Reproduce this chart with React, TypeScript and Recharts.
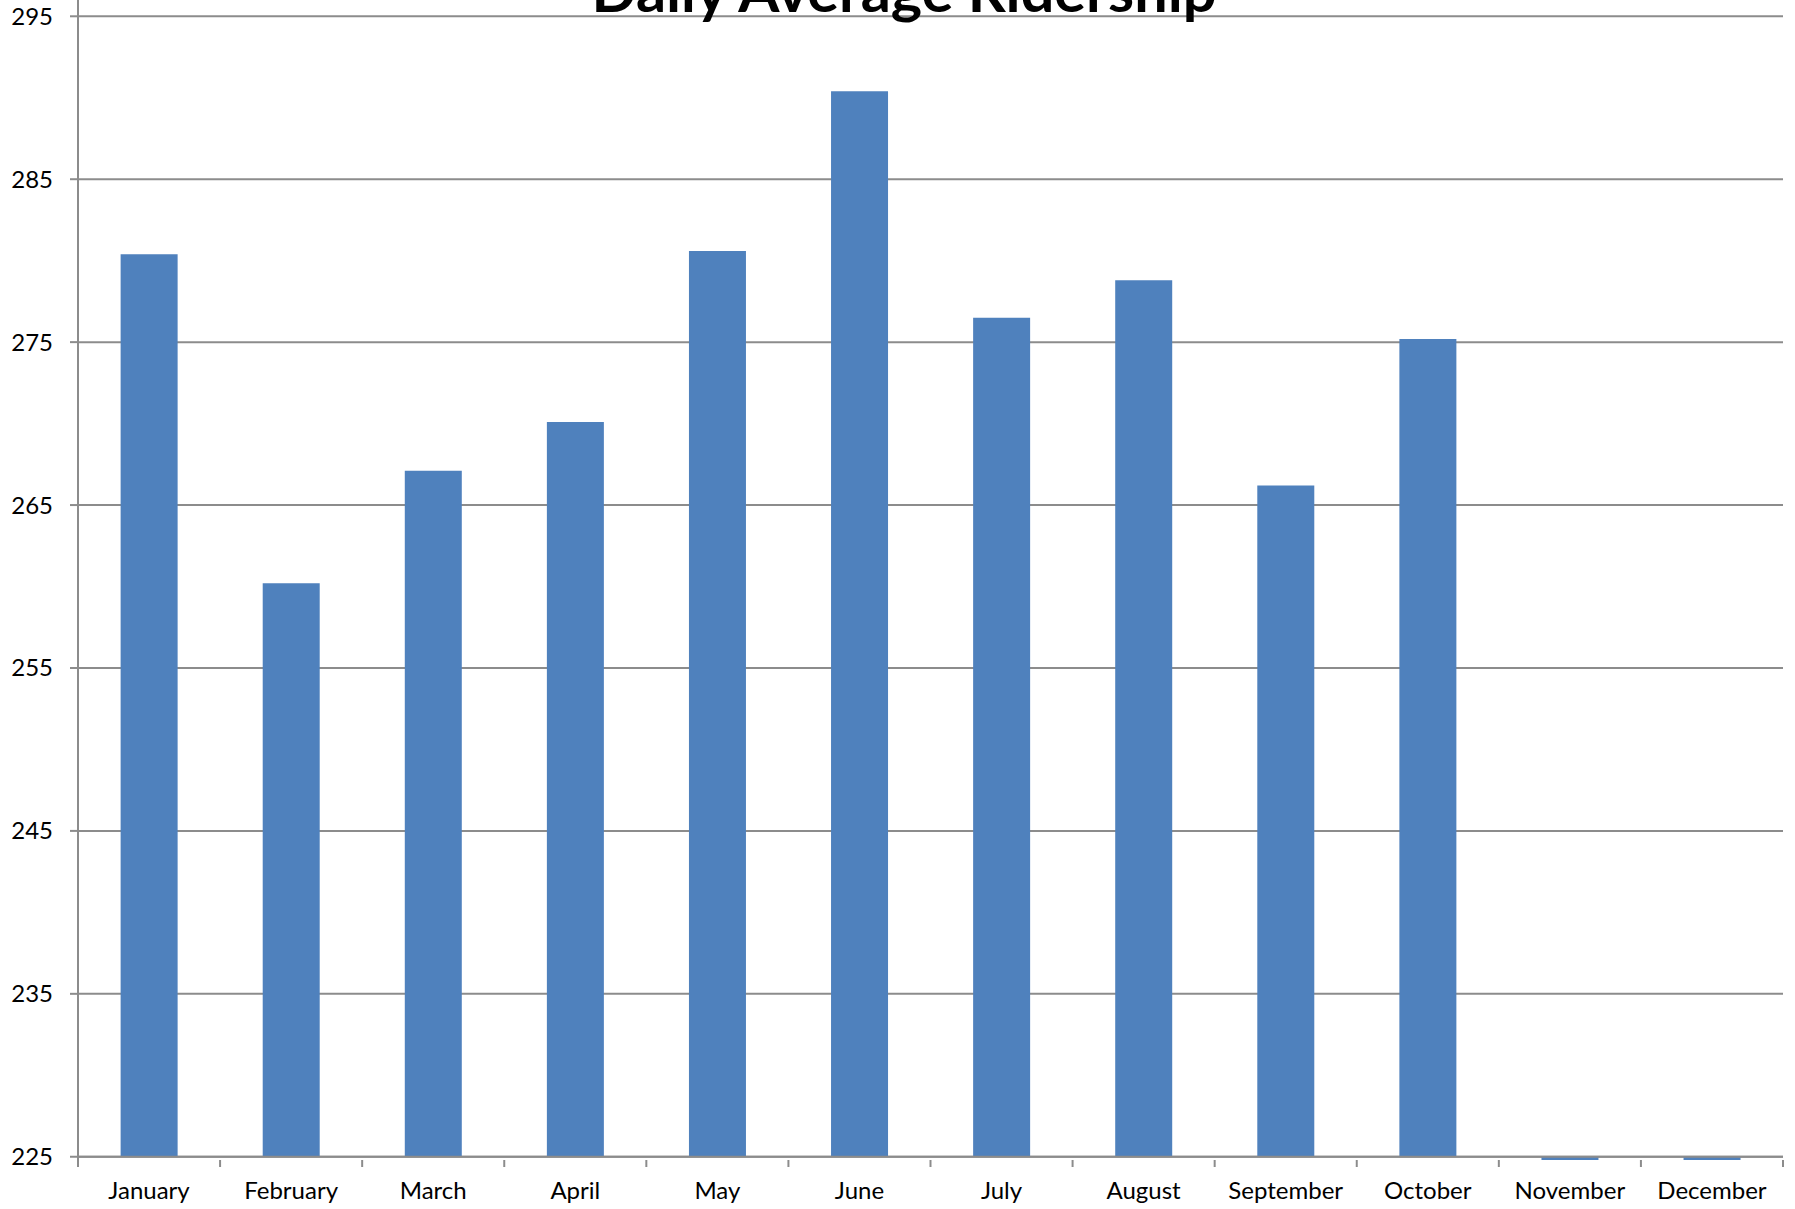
import { Bar, BarChart, CartesianGrid, ReferenceLine, XAxis, YAxis } from "recharts";

const months = [
  "January",
  "February",
  "March",
  "April",
  "May",
  "June",
  "July",
  "August",
  "September",
  "October",
  "November",
  "December"
];

// Nov/Dec show only a thin sliver under the axis
const ridership = [280.4, 260.2, 267.1, 270.1, 280.6, 290.4, 276.5, 278.8, 266.2, 275.2, 224.8, 224.8];

const yTicks = [225, 235, 245, 255, 265, 275, 285, 295];
const axisBase = 225;

const data = months.map((month, i) => ({ month, ridership: ridership[i] }));

const gray = "#8c8c8c";
const font = "Lato, 'Open Sans', sans-serif";
const labelGap = 22;

// label at the band centre, tick mark on the band edges (Excel style)
function MonthTick(props: any) {
  const { x, y, payload, index, visibleTicksCount } = props;
  const half = payload.offset ?? 0;
  const top = y - labelGap;
  return (
    <g>
      <line x1={x - half} x2={x - half} y1={top} y2={top + 7} stroke={gray} strokeWidth={2} />
      {index === visibleTicksCount - 1 && (
        <line x1={x + half} x2={x + half} y1={top} y2={top + 7} stroke={gray} strokeWidth={2} />
      )}
      <text x={x} y={y} dy="0.71em" textAnchor="middle" fill="#000" fontSize={24} fontFamily={font}>
        {payload.value}
      </text>
    </g>
  );
}

export default function App() {
  return (
    <div style={{ position: "relative", width: 1795, height: 1209, background: "#fff", overflow: "hidden" }}>
      <style>{`body { margin: 0; }`}</style>
      <BarChart
        width={1795}
        height={1209}
        data={data}
        margin={{ top: 0, right: 12, bottom: 48, left: 0 }}
        barCategoryGap="30%"
      >
        <CartesianGrid vertical={false} syncWithTicks stroke={gray} strokeWidth={2} />
        <XAxis
          dataKey="month"
          height={1}
          axisLine={false}
          tickLine={false}
          tickSize={0}
          tickMargin={labelGap}
          interval={0}
          tick={<MonthTick />}
        />
        <YAxis
          domain={[224.8, 296]}
          allowDataOverflow
          ticks={yTicks}
          width={78}
          axisLine={{ stroke: gray, strokeWidth: 2 }}
          tickLine={{ stroke: gray, strokeWidth: 2 }}
          tickSize={8}
          tickMargin={17}
          tick={{ fill: "#000", fontSize: 24, fontFamily: font }}
        />
        <ReferenceLine y={axisBase} stroke={gray} strokeWidth={2} />
        <Bar
          dataKey={(d: { ridership: number }) => [axisBase, d.ridership]}
          fill="#4f81bd"
          isAnimationActive={false}
        />
      </BarChart>
      <svg width={1795} height={60} style={{ position: "absolute", left: 0, top: 0, pointerEvents: "none" }}>
        <text
          x={904}
          y={12}
          textAnchor="middle"
          fontFamily={font}
          fontWeight="bold"
          fontSize={58}
          textLength={625}
          lengthAdjust="spacingAndGlyphs"
          fill="#000"
        >
          Daily Average Ridership
        </text>
      </svg>
    </div>
  );
}
